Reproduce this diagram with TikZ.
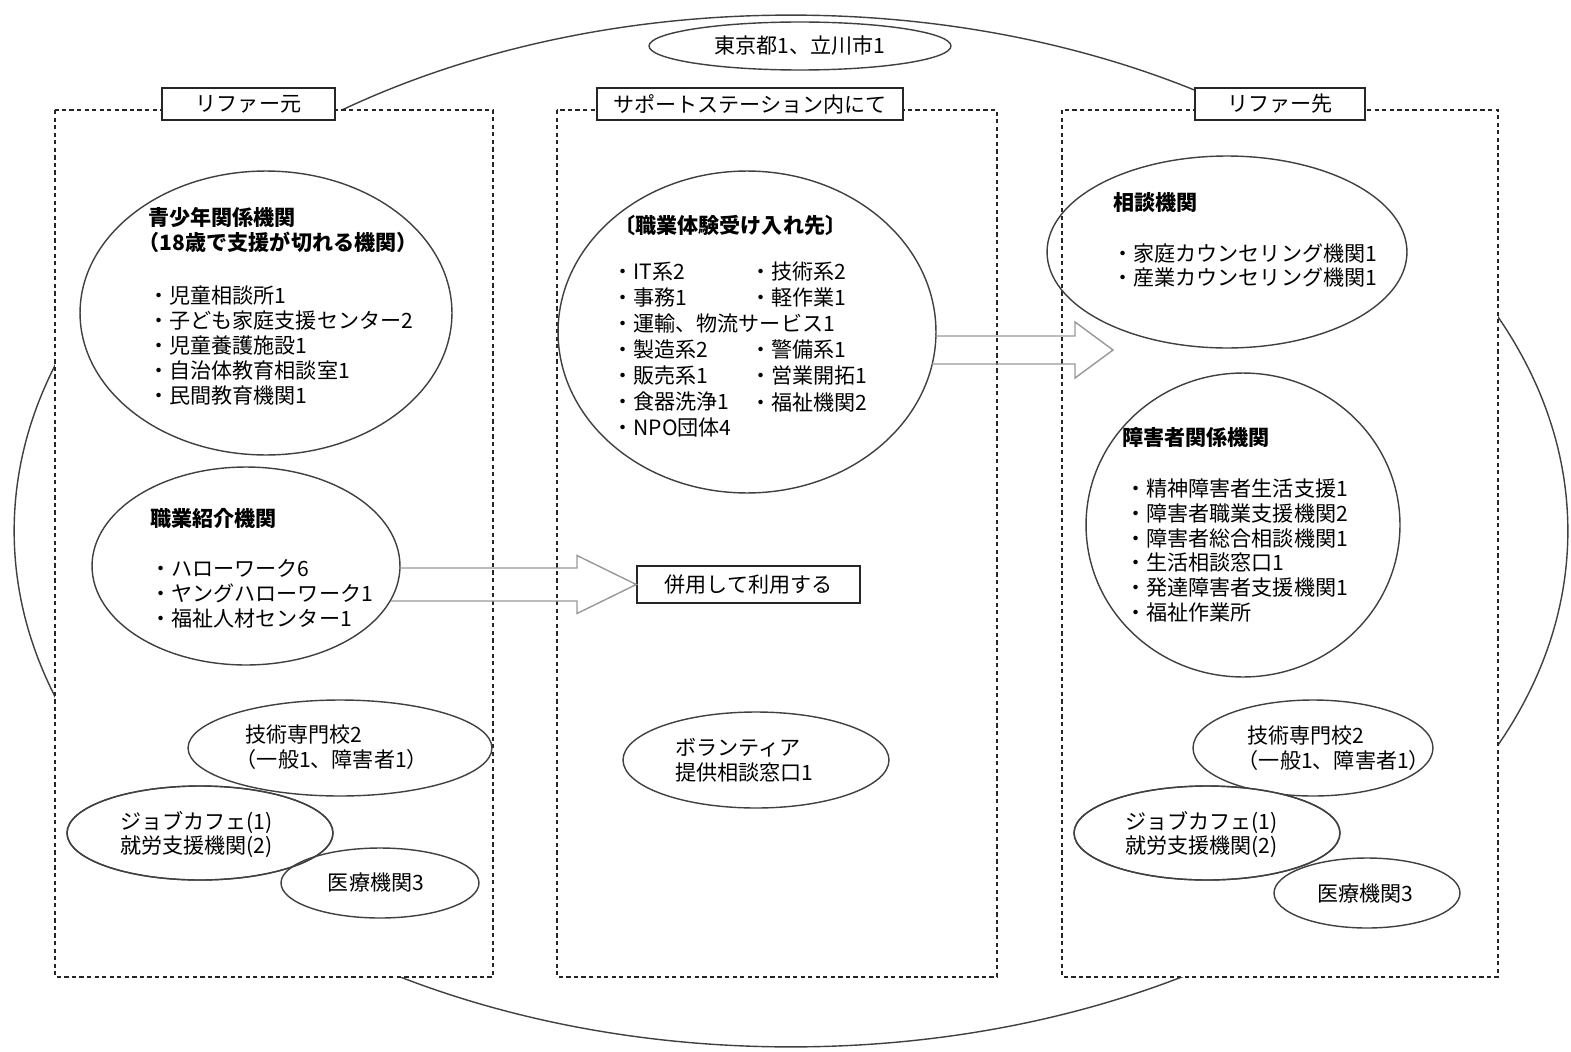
\documentclass[tikz,border=0pt]{standalone}
\usepackage{fontspec}
\setmainfont{Noto Sans CJK JP}
\usetikzlibrary{shapes.geometric}
\tikzset{
  ell/.style={ellipse, draw=black!75, line width=0.8pt, inner sep=0pt},
  zone/.style={fill=white, draw=black!85, line width=1.1pt, dash pattern=on 2.4pt off 1.9pt},
  lbl/.style={rectangle, draw=black!85, fill=white, line width=0.9pt, inner sep=0pt, minimum height=0.64cm, font=\fontsize{12}{14}\selectfont},
  txt/.style={anchor=west, inner sep=0pt, align=left, font=\fontsize{12}{14.2}\selectfont},
  txtw/.style={txt, font=\fontsize{12}{14.8}\selectfont},
  hd/.style={txt, font=\fontsize{12}{14.2}\selectfont\bfseries},
  blockarrow/.style={draw=black!40, line width=0.8pt},
}
\begin{document}
\begin{tikzpicture}[x=0.02cm, y=-0.02cm]
\fill[white] (0,0) rectangle (1571,1051);
\useasboundingbox (0,0) rectangle (1571,1051);

% outer ellipse
\node (outer) [ell, minimum width=31.08cm, minimum height=20.64cm] at (791,531) {};

% zones
\path[zone] (55,110) rectangle (493,977);
\path[zone] (557,110) rectangle (997,977);
\path[zone] (1062,110) rectangle (1498,977);

% labels
\node (lblL) [lbl, minimum width=3.46cm] at (248.5,104) {リファー元};
\node (lblM) [lbl, minimum width=6.12cm] at (750,104) {サポートステーション内にて};
\node (lblR) [lbl, minimum width=3.40cm] at (1280,104) {リファー先};

% top ellipse
\node (etop) [ell, fill=white, minimum width=6.04cm, minimum height=0.96cm] at (800,46) {};
\node (ttop) [txt, anchor=center] at (800,46) {東京都1、立川市1};

% left column
\node (e1) [ell, minimum width=7.44cm, minimum height=5.68cm] at (266,313) {};
\node (h1) [hd] at (148,230.5) {青少年関係機関\\\hspace*{-0.45em}（18歳で支援が切れる機関）};
\node (l1) [txt] at (148,345.5) {・児童相談所1\\・子ども家庭支援センター2\\・児童養護施設1\\・自治体教育相談室1\\・民間教育機関1};

\node (e2) [ell, minimum width=6.16cm, minimum height=3.96cm] at (246,566) {};
\node (h2) [hd] at (150,518) {職業紹介機関};
\node (l2) [txt] at (150,594) {・ハローワーク6\\・ヤングハローワーク1\\・福祉人材センター1};

\node (e3) [ell, minimum width=6.08cm, minimum height=1.92cm] at (340,748) {};
\node (t1) [txt] at (245,747.5) {技術専門校2\\\hspace*{-0.45em}（一般1、障害者1）};
\node (e4) [ell, fill=white, minimum width=5.32cm, minimum height=1.88cm] at (200,833) {};
\node (e5) [ell, minimum width=3.96cm, minimum height=1.40cm] at (380,883) {};
\node (e4b) [ell, minimum width=5.32cm, minimum height=1.88cm] at (200,833) {};
\node (t2) [txt] at (120,834.5) {ジョブカフェ(1)\\就労支援機関(2)};
\node (t3) [txt, anchor=center] at (376,882) {医療機関3};

% middle column
\node (e6) [ell, minimum width=7.56cm, minimum height=6.44cm] at (747,332) {};
\node (h3) [hd] at (614,225) {〔職業体験受け入れ先〕};
\node (m1) [txtw] at (612,350) {・IT系2\\・事務1\\・運輸、物流サービス1\\・製造系2\\・販売系1\\・食器洗浄1\\・NPO団体4};
\node (m2) [txtw] at (750,337) {・技術系2\\・軽作業1\\\mbox{}\\・警備系1\\・営業開拓1\\・福祉機関2};

\node (box) [lbl, minimum width=4.46cm, minimum height=0.74cm] at (748.5,584.5) {併用して利用する};

\node (e7) [ell, minimum width=5.32cm, minimum height=1.92cm] at (756,760) {};
\node (v1) [txt] at (675,760.5) {ボランティア\\提供相談窓口1};

% right column
\node (e8) [ell, minimum width=7.2cm, minimum height=3.84cm] at (1227,252) {};
\node (h4) [hd] at (1113,203) {相談機関};
\node (r1) [txt] at (1112,265.5) {・家庭カウンセリング機関1\\・産業カウンセリング機関1};

\node (e9) [ell, minimum width=6.28cm, minimum height=6.08cm] at (1243,525) {};
\node (h5) [hd] at (1122,437) {障害者関係機関};
\node (r2) [txt] at (1125,550.5) {・精神障害者生活支援1\\・障害者職業支援機関2\\・障害者総合相談機関1\\・生活相談窓口1\\・発達障害者支援機関1\\・福祉作業所};

\node (e10) [ell, minimum width=4.8cm, minimum height=1.92cm] at (1313,748) {};
\node (t4) [txt] at (1247,748) {技術専門校2\\\hspace*{-0.45em}（一般1、障害者1）};
\node (e11) [ell, fill=white, minimum width=5.32cm, minimum height=1.88cm] at (1207,833) {};
\node (e12) [ell, minimum width=3.72cm, minimum height=1.40cm] at (1367,893) {};
\node (e11b) [ell, minimum width=5.32cm, minimum height=1.88cm] at (1207,833) {};
\node (t5) [txt] at (1125,834.5) {ジョブカフェ(1)\\就労支援機関(2)};
\node (t6) [txt, anchor=center] at (1365,893) {医療機関3};

% block arrows
\coordinate (tip2) at (1113,350);
\draw[blockarrow] (399,568) -- (577,568) -- (577,555.5) -- (box.west) -- (577,613.5) -- (577,601) -- (391,601);
\draw[blockarrow] (935,336) -- (1075,336) -- (1075,322) -- (tip2) -- (1075,378) -- (1075,364) -- (932,364);
\end{tikzpicture}
\end{document}
